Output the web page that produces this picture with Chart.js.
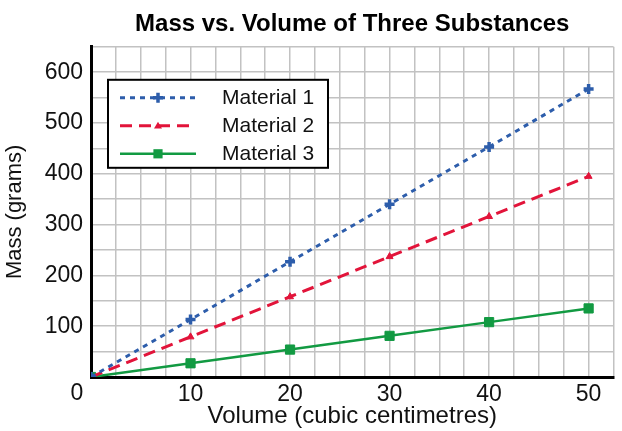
<!DOCTYPE html>
<html>
<head>
<meta charset="utf-8">
<script src="https://cdn.jsdelivr.net/npm/chart.js@4.4.1/dist/chart.umd.min.js"></script>
<style>
  html, body { margin: 0; padding: 0; background: #fff; }
  #wrap { width: 622px; height: 431px; }
</style>
</head>
<body>
<div id="wrap"><canvas id="chart"></canvas></div>
<script>
// data
const volumes = [0, 10, 20, 30, 40, 50];
const material1 = [0, 113, 227, 340, 453, 567];
const material2 = [0, 79, 158, 237, 316, 395];
const material3 = [0, 27, 54, 81, 108, 135];
const seriesNames = ['Material 1', 'Material 2', 'Material 3'];
const xTickLabels = [10, 20, 30, 40, 50];
const yTickLabels = [100, 200, 300, 400, 500, 600];

const FONT = '"Liberation Sans", Arial, Helvetica, sans-serif';
const TICK_FONT = '"Liberation Sans Narrow", "Liberation Sans", Arial, sans-serif';

const toPoints = (vals) => volumes.map((v, i) => ({ x: v, y: vals[i] }));

// legend drawn inside the plot area
const insideLegend = {
  id: 'insideLegend',
  afterDraw(chart) {
    const ctx = chart.ctx;
    const area = chart.chartArea;
    const bx = area.left + 17, by = area.top + 33, bw = 220, bh = 88;
    ctx.save();
    ctx.fillStyle = '#fff';
    ctx.fillRect(bx, by, bw, bh);
    ctx.lineWidth = 2;
    ctx.strokeStyle = '#000';
    ctx.strokeRect(bx, by, bw, bh);
    chart.data.datasets.forEach((ds, i) => {
      const y = by + 18 + i * 28;
      ctx.beginPath();
      ctx.setLineDash(ds.borderDash || []);
      ctx.lineWidth = ds.borderWidth;
      ctx.strokeStyle = ds.borderColor;
      ctx.moveTo(bx + 12, y);
      ctx.lineTo(bx + 88, y);
      ctx.stroke();
      ctx.setLineDash([]);
      drawMarker(ctx, ds.pointStyle, bx + 50, y, ds.pointRadius, ds.borderColor);
      ctx.fillStyle = '#111';
      ctx.font = '21px ' + FONT;
      ctx.textAlign = 'left';
      ctx.textBaseline = 'middle';
      ctx.fillText(ds.label, bx + 114, y);
    });
    ctx.restore();
  }
};

function drawMarker(ctx, style, x, y, r, color) {
  ctx.fillStyle = color;
  ctx.strokeStyle = color;
  if (style === 'cross') {
    ctx.lineWidth = 3.5;
    ctx.beginPath();
    ctx.moveTo(x - r, y); ctx.lineTo(x + r, y);
    ctx.moveTo(x, y - r); ctx.lineTo(x, y + r);
    ctx.stroke();
  } else if (style === 'triangle') {
    ctx.beginPath();
    ctx.moveTo(x, y - r);
    ctx.lineTo(x + r, y + r * 0.7);
    ctx.lineTo(x - r, y + r * 0.7);
    ctx.closePath();
    ctx.fill();
  } else {
    const s = r * Math.SQRT1_2;
    ctx.fillRect(x - s, y - s, 2 * s, 2 * s);
  }
}

// the shared "0" at the origin corner
const originLabel = {
  id: 'originLabel',
  afterDraw(chart) {
    const ctx = chart.ctx;
    const xs = chart.scales.x, ys = chart.scales.y;
    ctx.save();
    ctx.fillStyle = '#111';
    ctx.font = '23px ' + TICK_FONT;
    ctx.textAlign = 'center';
    ctx.textBaseline = 'middle';
    ctx.fillText('0', xs.getPixelForValue(0) - 14, ys.getPixelForValue(0) + 17);
    ctx.restore();
  }
};

new Chart(document.getElementById('chart'), {
  type: 'line',
  data: {
    datasets: [
      {
        label: seriesNames[0],
        data: toPoints(material1),
        borderColor: '#2d5dab',
        backgroundColor: '#2d5dab',
        borderWidth: 3,
        borderDash: [5, 5],
        pointStyle: 'cross',
        pointRadius: 5,
        pointBorderWidth: 3.5,
        clip: 0
      },
      {
        label: seriesNames[1],
        data: toPoints(material2),
        borderColor: '#e2143a',
        backgroundColor: '#e2143a',
        borderWidth: 3,
        borderDash: [12, 7],
        pointStyle: 'triangle',
        pointRadius: 4,
        pointBorderWidth: 1,
        clip: 0
      },
      {
        label: seriesNames[2],
        data: toPoints(material3),
        borderColor: '#129a42',
        backgroundColor: '#129a42',
        borderWidth: 2.5,
        pointStyle: 'rect',
        pointRadius: 6.5,
        pointBorderWidth: 1,
        clip: 0
      }
    ]
  },
  options: {
    animation: false,
    responsive: true,
    maintainAspectRatio: false,
    layout: { padding: { top: 0, right: 0, bottom: 0, left: 0 } },
    plugins: {
      legend: { display: false },
      tooltip: { enabled: false },
      title: {
        display: true,
        fullSize: false,
        text: 'Mass vs. Volume of Three Substances',
        color: '#000',
        font: { family: FONT, size: 24, weight: 'bold' },
        padding: { top: 10, bottom: 8 }
      }
    },
    scales: {
      x: {
        type: 'linear',
        min: 0,
        max: 52.5,
        afterFit: (s) => { s.height = 54; },
        grid: { color: '#c2c2c2', lineWidth: 1.5, drawTicks: false },
        border: { color: '#000', width: 3 },
        ticks: {
          stepSize: 2.5,
          autoSkip: false,
          maxRotation: 0,
          padding: 4,
          color: '#111',
          font: { family: TICK_FONT, size: 23 },
          callback: (v) => xTickLabels.includes(v) ? String(v) : ''
        },
        title: {
          display: true,
          text: 'Volume (cubic centimetres)',
          color: '#111',
          font: { family: FONT, size: 24 },
          padding: { top: 0, bottom: 0 }
        }
      },
      y: {
        min: 0,
        max: 650,
        afterFit: (s) => { s.width = 91; },
        grid: { color: '#c2c2c2', lineWidth: 1.5, drawTicks: false },
        border: { color: '#000', width: 3 },
        ticks: {
          stepSize: 50,
          autoSkip: false,
          padding: 8,
          color: '#111',
          font: { family: TICK_FONT, size: 23 },
          callback: (v) => yTickLabels.includes(v) ? String(v) : ''
        },
        title: {
          display: true,
          text: 'Mass (grams)',
          color: '#111',
          font: { family: FONT, size: 22 },
          padding: { top: 2, bottom: 0 }
        }
      }
    }
  },
  plugins: [insideLegend, originLabel]
});
</script>
</body>
</html>
